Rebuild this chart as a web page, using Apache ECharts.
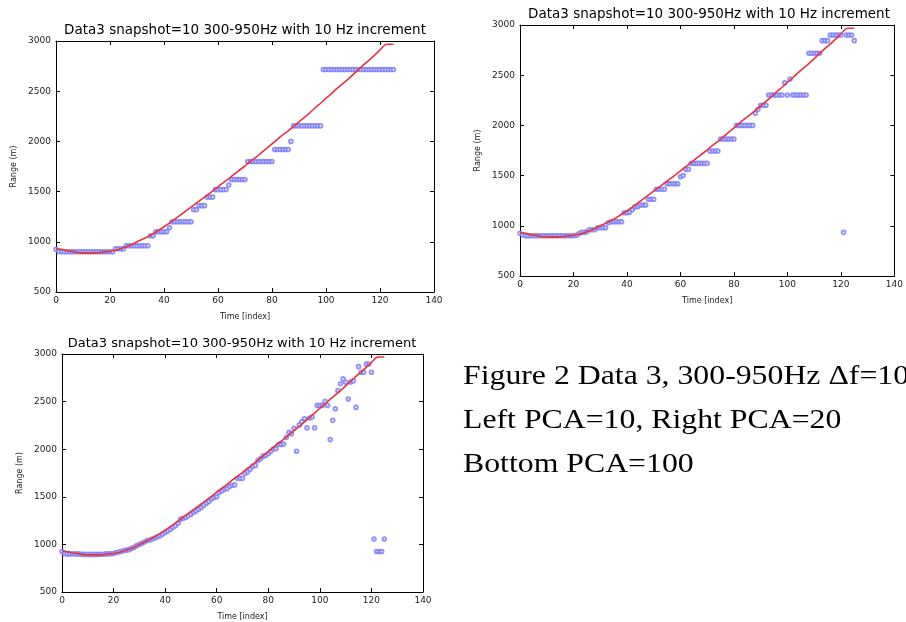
<html>
  <head>
    <meta charset="utf-8" />
    <script src="https://cdn.jsdelivr.net/npm/echarts@6/dist/echarts.min.js"></script>
  </head>
  <body>
    <style>
      html,
      body,
      #main {
        width: 100%;
        height: 100%;
        margin: 0;
        background: #fff;
      }
    </style>
    <div id="main"></div>
    <script>
      // true range (red line), one value per time index 0..125
      const trueRange = [
        930, 928, 925, 918, 910, 907, 905, 898, 893, 891,
        890, 890, 890, 890, 890, 891, 892, 896, 900, 902,
        905, 910, 915, 922, 930, 940, 950, 960, 970, 985,
        1000, 1012, 1025, 1038, 1050, 1065, 1080, 1098, 1115, 1132,
        1150, 1168, 1185, 1205, 1225, 1245, 1265, 1285, 1305, 1325,
        1345, 1365, 1385, 1405, 1425, 1445, 1465, 1485, 1505, 1527,
        1548, 1570, 1590, 1610, 1630, 1652, 1675, 1695, 1715, 1735,
        1755, 1780, 1800, 1820, 1840, 1862, 1885, 1908, 1930, 1952,
        1975, 1998, 2020, 2045, 2065, 2085, 2105, 2128, 2150, 2172,
        2195, 2218, 2240, 2262, 2285, 2310, 2335, 2358, 2380, 2405,
        2430, 2452, 2475, 2500, 2525, 2548, 2570, 2592, 2615, 2640,
        2665, 2690, 2715, 2740, 2765, 2788, 2810, 2835, 2860, 2885,
        2910, 2940, 2965, 2968, 2968, 2968,
      ];

      // estimated range, PCA=10 (top left)
      const pca10 = [
        925, 905, 900, 900, 900, 900, 900, 900, 900, 900,
        900, 900, 900, 900, 900, 900, 900, 900, 900, 900,
        900, 900, 930, 930, 930, 930, 960, 960, 960, 960,
        960, 960, 960, 960, 960, 1060, 1060, 1100, 1100, 1100,
        1100, 1100, 1140, 1200, 1200, 1200, 1200, 1200, 1200, 1200,
        1200, 1320, 1320, 1360, 1360, 1360, 1445, 1445, 1445, 1520,
        1520, 1520, 1520, 1520, 1565, 1620, 1620, 1620, 1620, 1620,
        1620, 1800, 1800, 1800, 1800, 1800, 1800, 1800, 1800, 1800,
        1800, 1920, 1920, 1920, 1920, 1920, 1920, 2000, 2155, 2155,
        2155, 2155, 2155, 2155, 2155, 2155, 2155, 2155, 2155, 2715,
        2715, 2715, 2715, 2715, 2715, 2715, 2715, 2715, 2715, 2715,
        2715, 2715, 2715, 2715, 2715, 2715, 2715, 2715, 2715, 2715,
        2715, 2715, 2715, 2715, 2715, 2715,
      ];

      // estimated range, PCA=20 (top right)
      const pca20 = [
        925, 910, 900, 900, 900, 900, 900, 900, 900, 900,
        900, 900, 900, 900, 900, 900, 900, 900, 900, 900,
        900, 905, 920, 935, 935, 940, 960, 960, 960, 980,
        980, 980, 980, 1030, 1040, 1040, 1040, 1040, 1040, 1130,
        1130, 1135, 1160, 1190, 1190, 1207, 1207, 1207, 1264, 1264,
        1264, 1364, 1364, 1364, 1364, 1419, 1419, 1419, 1419, 1419,
        1489, 1500, 1563, 1563, 1622, 1622, 1622, 1622, 1622, 1622,
        1622, 1745, 1745, 1745, 1745, 1865, 1865, 1865, 1865, 1865,
        1865, 2000, 2000, 2000, 2000, 2000, 2000, 2000, 2120, 2160,
        2200, 2200, 2200, 2303, 2303, 2303, 2303, 2303, 2303, 2425,
        2303, 2462, 2303, 2303, 2303, 2303, 2303, 2303, 2718, 2718,
        2718, 2718, 2718, 2844, 2844, 2844, 2900, 2900, 2900, 2900,
        2900, 935, 2900, 2900, 2900, 2844,
      ];

      // estimated range, PCA=100 (bottom)
      const pca100 = [
        925, 905, 900, 900, 902, 900, 900, 898, 895, 895,
        895, 895, 895, 895, 895, 897, 897, 900, 900, 902,
        905, 915, 920, 925, 935, 940, 945, 958, 970, 987,
        1000, 1012, 1025, 1040, 1045, 1056, 1068, 1080, 1091, 1110,
        1126, 1140, 1158, 1180, 1195, 1222, 1265, 1275, 1283, 1300,
        1318, 1338, 1352, 1370, 1388, 1410, 1433, 1450, 1480, 1492,
        1500, 1545, 1561, 1580, 1586, 1610, 1621, 1625, 1694, 1694,
        1694, 1746, 1760, 1790, 1822, 1830, 1882, 1900, 1927, 1935,
        1955, 1979, 2004, 2005, 2049, 2050, 2055, 2125, 2178, 2161,
        2220, 1979, 2255, 2290, 2320, 2224, 2328, 2338, 2224, 2460,
        2460, 2460, 2502, 2460, 2101, 2303, 2425, 2617, 2687, 2739,
        2704, 2527, 2707, 2718, 2439, 2867, 2809, 2809, 2895, 2895,
        2809, 1057, 925, 925, 925, 1057,
      ];

      const xTicks = { min: 0, max: 140, interval: 20 };
      const yTicks = { min: 500, max: 3000, interval: 500 };
      const titleText = "Data3 snapshot=10 300-950Hz with 10 Hz increment";
      const caption = [
        "Figure 2 Data 3, 300-950Hz \u0394f=10",
        "Left PCA=10, Right PCA=20",
        "Bottom PCA=100",
      ];

      const panels = [
        { grid: { left: 56, top: 41, width: 378, height: 251 }, titleX: 245, titleY: 23, est: pca10, fs: 13.5 },
        { grid: { left: 520, top: 25, width: 378, height: 251 }, titleX: 709, titleY: 7, est: pca20, fs: 13.5 },
        { grid: { left: 62, top: 354, width: 361, height: 239 }, titleX: 242, titleY: 337, est: pca100, fs: 13 },
      ];

      const toPts = (arr) => arr.map((v, i) => [i, v]);

      const black = { color: "#000", width: 1 };
      const labelFont = { fontSize: 9, color: "#222", fontFamily: "DejaVu Sans", formatter: (v) => String(v) };
      const nameFont = { fontSize: 8, color: "#222", fontFamily: "DejaVu Sans" };

      const grid = [], xAxis = [], yAxis = [], series = [], title = [];
      panels.forEach((p, i) => {
        grid.push(Object.assign({ containLabel: false }, p.grid));
        title.push({
          text: titleText,
          left: p.titleX,
          top: p.titleY,
          textAlign: "center",
          padding: 0,
          textStyle: { fontSize: p.fs, fontWeight: "normal", color: "#000", fontFamily: "DejaVu Sans" },
        });
        // bottom / top x axes
        xAxis.push(Object.assign({
          gridIndex: i, type: "value", position: "bottom",
          axisLine: { show: true, onZero: false, lineStyle: black },
          axisTick: { show: true, inside: true, length: 4, lineStyle: black },
          axisLabel: Object.assign({ margin: 4 }, labelFont),
          splitLine: { show: false },
          name: "Time [index]", nameLocation: "middle", nameGap: 21, nameTextStyle: nameFont,
        }, xTicks));
        xAxis.push(Object.assign({
          gridIndex: i, type: "value", position: "top",
          axisLine: { show: true, onZero: false, lineStyle: black },
          axisTick: { show: true, inside: true, length: 4, lineStyle: black },
          axisLabel: { show: false }, splitLine: { show: false },
        }, xTicks));
        // left / right y axes
        yAxis.push(Object.assign({
          gridIndex: i, type: "value", position: "left",
          axisLine: { show: true, onZero: false, lineStyle: black },
          axisTick: { show: true, inside: true, length: 4, lineStyle: black },
          axisLabel: Object.assign({ margin: 5 }, labelFont),
          splitLine: { show: false },
          name: "Range (m)", nameLocation: "middle", nameGap: 38, nameRotate: 90, nameTextStyle: nameFont,
        }, yTicks));
        yAxis.push(Object.assign({
          gridIndex: i, type: "value", position: "right",
          axisLine: { show: true, onZero: false, lineStyle: black },
          axisTick: { show: true, inside: true, length: 4, lineStyle: black },
          axisLabel: { show: false }, splitLine: { show: false },
        }, yTicks));

        series.push({
          type: "scatter",
          xAxisIndex: i * 2, yAxisIndex: i * 2,
          symbol: "emptyCircle", symbolSize: 3.6,
          itemStyle: { color: "#7a7af2", borderWidth: 0.7 },
          data: toPts(p.est),
          z: 2,
        });
        series.push({
          type: "line",
          xAxisIndex: i * 2, yAxisIndex: i * 2,
          showSymbol: false,
          lineStyle: { color: "#e8333c", width: 1.6 },
          data: toPts(trueRange),
          z: 3,
        });
      });

      const graphic = caption.map((t, k) => ({
        type: "text",
        x: 463,
        y: 377 + k * 44,
        scaleX: 1.135,
        style: {
          text: t,
          font: '28px "Liberation Serif"',
          fill: "#000",
          verticalAlign: "middle",
        },
      }));

      var chart = echarts.init(document.getElementById("main"));
      chart.setOption({
        animation: false,
        title: title,
        grid: grid,
        xAxis: xAxis,
        yAxis: yAxis,
        series: series,
        graphic: graphic,
      });

      window.onresize = chart.resize;
    </script>
  </body>
</html>
